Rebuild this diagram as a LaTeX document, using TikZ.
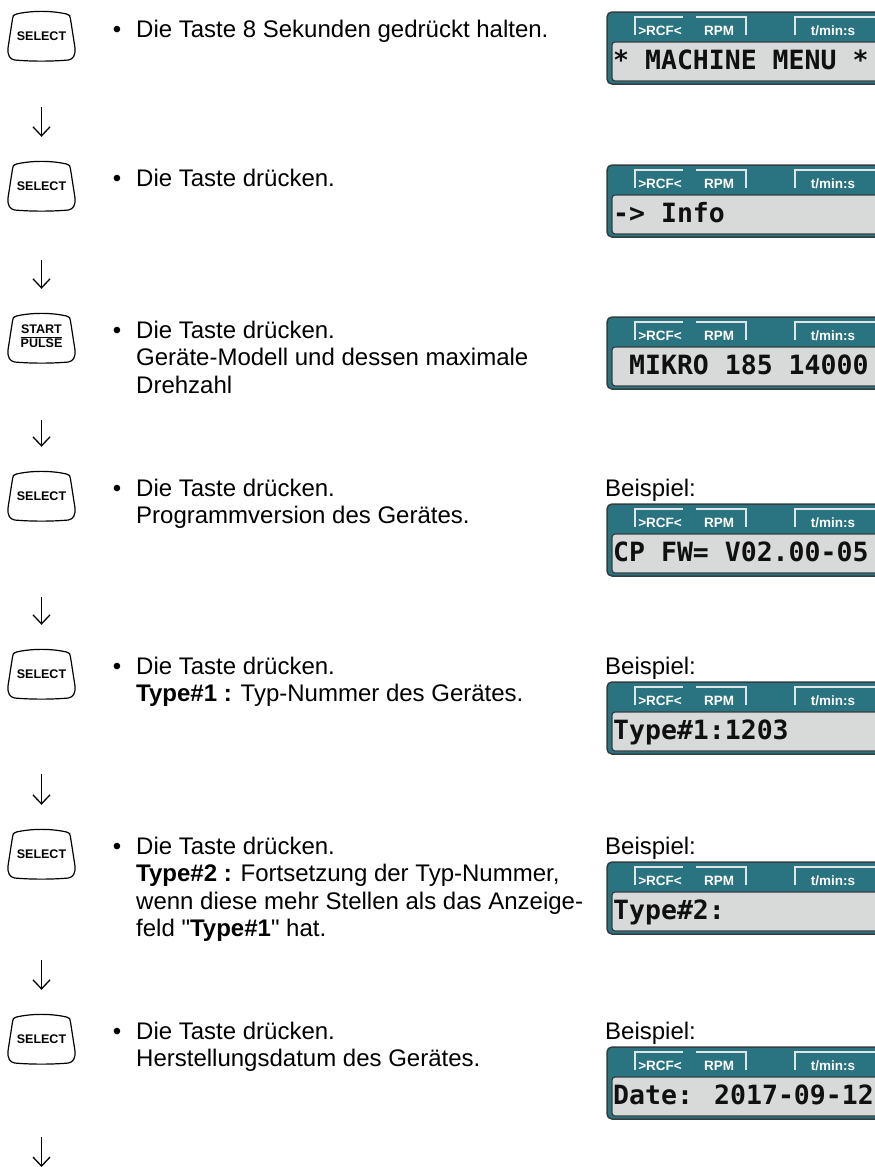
\documentclass[tikz,border=0pt]{standalone}
\usepackage{fontspec}
\setmainfont{Liberation Sans}
\newfontfamily\lcdfont{DejaVu Sans Mono}
\usetikzlibrary{arrows.meta}

\definecolor{panelTeal}{RGB}{42,115,128}
\definecolor{panelEdge}{RGB}{52,62,66}
\definecolor{panelGlass}{RGB}{216,218,218}
\definecolor{panelTab}{RGB}{224,229,230}
\definecolor{lcdInk}{RGB}{16,16,16}

\tikzset{
  keycap/.style={minimum width=67pt,minimum height=50pt,inner sep=0pt,font=\bfseries\fontsize{12.5}{13}\selectfont},
  keyline/.style={line width=1.2pt,line join=round},
  steptext/.style={anchor=base west,inner sep=0pt,font=\fontsize{24}{27.5}\selectfont},
  dot/.style={anchor=base,inner sep=0pt,font=\fontsize{24}{27.5}\selectfont},
  flow/.style={line width=1.3pt,-{Straight Barb[length=9pt,width=17pt,line width=1.3pt]},shorten >=24pt},
  lcdouter/.style={fill=panelTeal,draw=panelEdge,line width=1.5pt,rounded corners=5pt},
  lcdinner/.style={fill=panelGlass,draw=panelEdge,line width=1.2pt,rounded corners=3pt},
  tabline/.style={draw=panelTab,line width=2pt},
  tabtext/.style={inner sep=0pt,text=white,font=\bfseries\fontsize{13.5}{14}\selectfont},
  lcdtext/.style={anchor=base west,inner sep=0pt,text=lcdInk,font=\lcdfont\bfseries\fontsize{26.5}{27}\selectfont}
}

% outline of a front panel key round node #1
\newcommand{\keyoutline}[1]{%
  \draw[keyline,shift={(#1.center)}] (-25,-22) .. controls (-10,-25.5) and (10,-25.5) .. (25,-22)
    .. controls (28,-21.5) and (29,-20) .. (29,-17) -- (33.5,12)
    .. controls (34,19) and (32,23) .. (27,24)
    .. controls (10,25.5) and (-10,25.5) .. (-27,24)
    .. controls (-32,23) and (-34,19) .. (-33.5,12) -- (-29,-17)
    .. controls (-29,-20) and (-28,-21.5) .. (-25,-22) -- cycle;}

% display: name, top edge, reading
\newcommand{\lcddisplay}[3]{%
  \begin{scope}[shift={(607,#2)}]
    \draw[lcdouter] (0,0) rectangle (290,72);
    \draw[lcdinner] (5,30) rectangle (290,69);
    \draw[tabline] (28,23) -- (28,5) -- (76,5);
    \draw[tabline] (89,5) -- (139,5) -- (139,23);
    \draw[tabline] (188,23) -- (188,5) -- (290,5);
    \node[tabtext] (#1-rcf) at (53,19) {>RCF<};
    \node[tabtext] (#1-rpm) at (112,19) {RPM};
    \node[tabtext] (#1-time) at (226,19) {t/min:s};
    \node[lcdtext] (#1-read) at (6,57) {#3};
  \end{scope}}

\begin{document}
\begin{tikzpicture}[x=1pt,y=-1pt]
\useasboundingbox (0,0) rectangle (875,1167);
\clip (0,0) rectangle (875,1167);
\fill[white] (0,0) rectangle (875,1167);

% keys
\node[keycap] (b1) at (41.5,36) {SELECT};
\node[keycap] (b2) at (41.5,186) {SELECT};
\node[keycap] (b3) at (41.5,338) {\renewcommand{\arraystretch}{1.12}\begin{tabular}{@{}c@{}}START\\[-1pt]\hline PULSE\end{tabular}};
\node[keycap] (b4) at (41.5,496) {SELECT};
\node[keycap] (b5) at (41.5,674) {SELECT};
\node[keycap] (b6) at (41.5,854) {SELECT};
\node[keycap] (b7) at (41.5,1039) {SELECT};
\foreach \k in {1,...,7} {\keyoutline{b\k}}

% arrows between the steps
\coordinate (a1) at (41.5,107);
\coordinate (a2) at (41.5,260);
\coordinate (a3) at (41.5,420);
\coordinate (a4) at (41.5,597);
\coordinate (a5) at (41.5,774);
\coordinate (a6) at (41.5,960);
\coordinate (a7) at (41.5,1137);
\coordinate (z) at (41.5,1167);
\draw[flow] (a1) -- (b2);
\draw[flow] (a2) -- (b3);
\draw[flow] (a3) -- (b4);
\draw[flow] (a4) -- (b5);
\draw[flow] (a5) -- (b6);
\draw[flow] (a6) -- (b7);
\draw[flow,shorten >=0pt] (a7) -- (z);

% step texts
\foreach \y [count=\i] in {37,186,338,496,674,854,1039} {\node[dot] (d\i) at (117,\y) {•};}
\node[steptext] (t1) at (136,37) {Die Taste 8 Sekunden gedrückt halten.};
\node[steptext] (t2) at (136,186) {Die Taste drücken.};
\node[steptext] (t3) at (136,338) {Die Taste drücken.};
\node[steptext] (t3b) at (136,365.5) {Geräte-Modell und dessen maximale};
\node[steptext] (t3c) at (136,393) {Drehzahl};
\node[steptext] (t4) at (136,496) {Die Taste drücken.};
\node[steptext] (t4b) at (136,523.5) {Programmversion des Gerätes.};
\node[steptext] (t5) at (136,674) {Die Taste drücken.};
\node[steptext] (t5b) at (136,701.5) {\textbf{Type\#1 :} Typ-Nummer des Gerätes.};
\node[steptext] (t6) at (136,854) {Die Taste drücken.};
\node[steptext] (t6b) at (136,881.5) {\textbf{Type\#2 :} Fortsetzung der Typ-Nummer,};
\node[steptext] (t6c) at (136,909) {wenn diese mehr Stellen als das Anzeige-};
\node[steptext] (t6d) at (136,936.5) {feld \textquotedbl\textbf{Type\#1}\textquotedbl\ hat.};
\node[steptext] (t7) at (136,1039) {Die Taste drücken.};
\node[steptext] (t7b) at (136,1066.5) {Herstellungsdatum des Gerätes.};

% example labels
\node[steptext] (e4) at (605,496) {Beispiel:};
\node[steptext] (e5) at (605,674) {Beispiel:};
\node[steptext] (e6) at (605,854) {Beispiel:};
\node[steptext] (e7) at (605,1039) {Beispiel:};

% displays
\lcddisplay{v1}{12}{* MACHINE MENU *}
\lcddisplay{v2}{165}{-> Info}
\lcddisplay{v3}{317}{~MIKRO 185 14000}
\lcddisplay{v4}{504}{CP FW= V02.00-05}
\lcddisplay{v5}{682}{Type\#1:1203}
\lcddisplay{v6}{862}{Type\#2:}
\lcddisplay{v7}{1047}{Date: 2017-09-12}
\end{tikzpicture}
\end{document}
